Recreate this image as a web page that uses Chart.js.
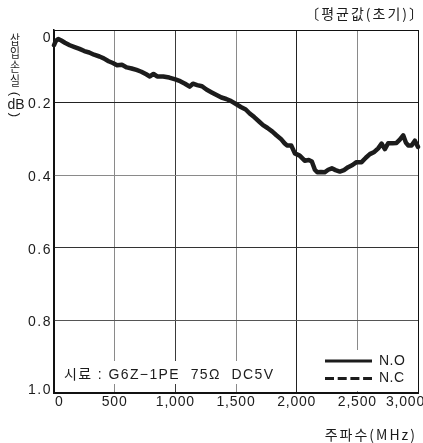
<!DOCTYPE html>
<html>
<head>
<meta charset="utf-8">
<script src="https://cdn.jsdelivr.net/npm/chart.js@4/dist/chart.umd.min.js"></script>
<style>
  html, body { margin: 0; padding: 0; background: #fff; }
  canvas { display: block; }
</style>
</head>
<body>
<canvas id="c" width="423" height="443"></canvas>
<script>
// Insertion loss vs. frequency (G6Z-1PE, 75 ohm, DC5V), initial average values
const freqMHz = [
  0, 15, 35, 60, 90, 130, 170, 210, 250, 290, 330, 375, 410, 450, 485, 520, 560, 600,
  640, 680, 720, 760, 790, 820, 850, 900, 950, 1000, 1040, 1080, 1118, 1145, 1180, 1220,
  1256, 1300, 1340, 1380, 1420, 1460, 1500, 1540, 1580, 1613, 1650, 1690, 1723, 1760,
  1800, 1833, 1870, 1900, 1920, 1955, 1985, 2025, 2066, 2100, 2125, 2150, 2170, 2200,
  2230, 2260, 2290, 2320, 2356, 2390, 2424, 2460, 2493, 2535, 2570, 2603, 2640, 2672,
  2700, 2727, 2754, 2790, 2823, 2850, 2878, 2900, 2919, 2947, 2974, 3000
];
const lossNO = [
  0.042, 0.030, 0.025, 0.029, 0.035, 0.042, 0.047, 0.052, 0.058, 0.062, 0.068, 0.073,
  0.078, 0.086, 0.091, 0.097, 0.096, 0.103, 0.106, 0.110, 0.115, 0.122, 0.128, 0.121,
  0.128, 0.128, 0.131, 0.136, 0.141, 0.148, 0.156, 0.148, 0.152, 0.155, 0.164, 0.172,
  0.179, 0.186, 0.190, 0.196, 0.204, 0.212, 0.219, 0.230, 0.240, 0.252, 0.262, 0.270,
  0.280, 0.290, 0.300, 0.312, 0.318, 0.318, 0.340, 0.346, 0.360, 0.358, 0.362, 0.385,
  0.392, 0.391, 0.392, 0.385, 0.381, 0.386, 0.390, 0.386, 0.378, 0.372, 0.364, 0.364,
  0.352, 0.342, 0.336, 0.326, 0.313, 0.328, 0.312, 0.312, 0.311, 0.302, 0.290, 0.310,
  0.318, 0.318, 0.305, 0.322
];
const seriesNames = ['N.O', 'N.C'];
const xTickValues = [0, 500, 1000, 1500, 2000, 2500, 3000];
const xTickLabels = ['0', '500', '1,000', '1,500', '2,000', '2,500', '3,000'];
const yTickValues = [0, 0.2, 0.4, 0.6, 0.8, 1.0];
const yTickLabels = ['0', '0.2', '0.4', '0.6', '0.8', '1.0'];
const headerText = '〔평균값(초기)〕';
const xTitle = '주파수(MHz)';
const yTitleChars = ['삽', '입', '손', '실'];
const yTitleUnit = 'dB';
const sampleText = '시료 : G6Z−1PE  75Ω  DC5V';

const LATIN = "'Liberation Sans', Arial, sans-serif";
const KOR = "'Noto Sans CJK KR', sans-serif";
const INK = '#1c1c1c';

// Grid shades: some lines print darker than others
const xGridShade = { 0: '#111', 500: '#8a8a8a', 1000: '#3a3a3a', 1500: '#8a8a8a', 2000: '#222', 2500: '#8a8a8a', 3000: '#111' };
const yGridShade = { 0: '#111', 0.2: '#222', 0.4: '#8a8a8a', 0.6: '#333', 0.8: '#555', 1: '#111' };

function spaced(ctx, px) {
  if ('letterSpacing' in ctx) ctx.letterSpacing = px + 'px';
}

// y axis title: stacked syllables, bracketed unit
function drawYTitle(ctx, x, y0) {
  ctx.save();
  ctx.translate(x, y0);
  ctx.textAlign = 'center';
  ctx.textBaseline = 'alphabetic';
  ctx.font = '12px ' + KOR;
  const ty = [5, 18, 32, 46];
  yTitleChars.forEach((ch, i) => {
    ctx.save();
    ctx.translate(0, ty[i]);
    ctx.scale(0.9, 1.05);
    ctx.fillText(ch, 0, 0);
    ctx.restore();
  });
  ctx.textBaseline = 'middle';
  ctx.font = '13px ' + LATIN;
  [['(', 55], [')', 76]].forEach(([p, y]) => {
    ctx.save();
    ctx.translate(0, y);
    ctx.rotate(Math.PI / 2);
    ctx.fillText(p, 0, 0);
    ctx.restore();
  });
  ctx.font = '14px ' + LATIN;
  ctx.fillText(yTitleUnit, 1, 66);
  ctx.restore();
}

const decor = {
  id: 'decor',
  beforeDatasetsDraw(chart) {
    const { ctx } = chart;
    ctx.save();
    ctx.fillStyle = '#fff';
    // blank backing for the sample note and the legend
    ctx.fillRect(58, 361, 227, 23);
    ctx.fillRect(320, 350, 96, 41);
    ctx.restore();
  },
  afterDraw(chart) {
    const { ctx } = chart;
    const xs = chart.scales.x, ys = chart.scales.y;
    ctx.save();
    ctx.fillStyle = INK;
    ctx.textBaseline = 'middle';

    // x tick labels
    ctx.font = '14px ' + LATIN;
    spaced(ctx, 0.8);
    xTickValues.forEach((v, i) => {
      const px = xs.getPixelForValue(v);
      if (i === 0) { ctx.textAlign = 'left'; ctx.fillText(xTickLabels[i], px + 1, 402); }
      else if (i === xTickValues.length - 1) { ctx.textAlign = 'left'; ctx.fillText(xTickLabels[i], 386, 402); }
      else { ctx.textAlign = 'center'; ctx.fillText(xTickLabels[i], px, 402); }
    });

    // y tick labels
    ctx.textAlign = 'right';
    spaced(ctx, 1.5);
    yTickValues.forEach((v, i) => {
      let py = ys.getPixelForValue(v) + 2;
      if (i === 0) py = ys.getPixelForValue(v) + 8;
      if (i === yTickValues.length - 1) py = ys.getPixelForValue(v) - 3;
      ctx.fillText(yTickLabels[i], 52, py);
    });
    spaced(ctx, 0);

    drawYTitle(ctx, 15, 39);

    // header and x axis title
    ctx.textAlign = 'right';
    ctx.textBaseline = 'middle';
    ctx.font = '14px ' + KOR;
    spaced(ctx, 2);
    ctx.fillText(headerText, 425, 14);
    ctx.fillText(xTitle, 417, 435);

    // sample note
    ctx.textAlign = 'left';
    ctx.font = '14px ' + LATIN + ", 'Noto Sans CJK KR'";
    spaced(ctx, 1.4);
    ctx.fillText(sampleText, 64, 375);
    spaced(ctx, 0);

    // legend
    ctx.strokeStyle = INK;
    ctx.lineWidth = 3;
    ctx.beginPath(); ctx.moveTo(325, 361); ctx.lineTo(372, 361); ctx.stroke();
    ctx.setLineDash([9, 3.7]);
    ctx.beginPath(); ctx.moveTo(325, 378.5); ctx.lineTo(372, 378.5); ctx.stroke();
    ctx.setLineDash([]);
    ctx.font = '14px ' + LATIN;
    spaced(ctx, 0.5);
    ctx.fillText(seriesNames[0], 379, 361);
    ctx.fillText(seriesNames[1], 379, 378);
    ctx.restore();
  }
};

new Chart(document.getElementById('c'), {
  type: 'line',
  data: {
    datasets: [{
      label: seriesNames[0],
      data: freqMHz.map((f, i) => ({ x: f, y: lossNO[i] })),
      borderColor: INK,
      borderWidth: 4.5,
      borderJoinStyle: 'round',
      borderCapStyle: 'round',
      pointRadius: 0,
      tension: 0,
      fill: false,
      clip: 3
    }]
  },
  options: {
    responsive: false,
    animation: false,
    devicePixelRatio: 1,
    layout: { padding: { left: 54, top: 30, right: 5, bottom: 50 } },
    plugins: { legend: { display: false }, tooltip: { enabled: false } },
    scales: {
      x: {
        type: 'linear', min: 0, max: 3000,
        afterBuildTicks(scale) { scale.ticks = xTickValues.map(v => ({ value: v })); },
        ticks: { display: false },
        grid: { drawTicks: false, lineWidth: 1, color: c => xGridShade[c.tick.value] || '#888' },
        border: { display: true, color: '#111', width: 2 }
      },
      y: {
        type: 'linear', min: 0, max: 1, reverse: true,
        afterBuildTicks(scale) { scale.ticks = yTickValues.map(v => ({ value: v })); },
        ticks: { display: false },
        grid: { drawTicks: false, lineWidth: 1, color: c => yGridShade[Math.round(c.tick.value * 10) / 10] || '#888' },
        border: { display: true, color: '#111', width: 1.5 }
      }
    }
  },
  plugins: [decor]
});
</script>
</body>
</html>
